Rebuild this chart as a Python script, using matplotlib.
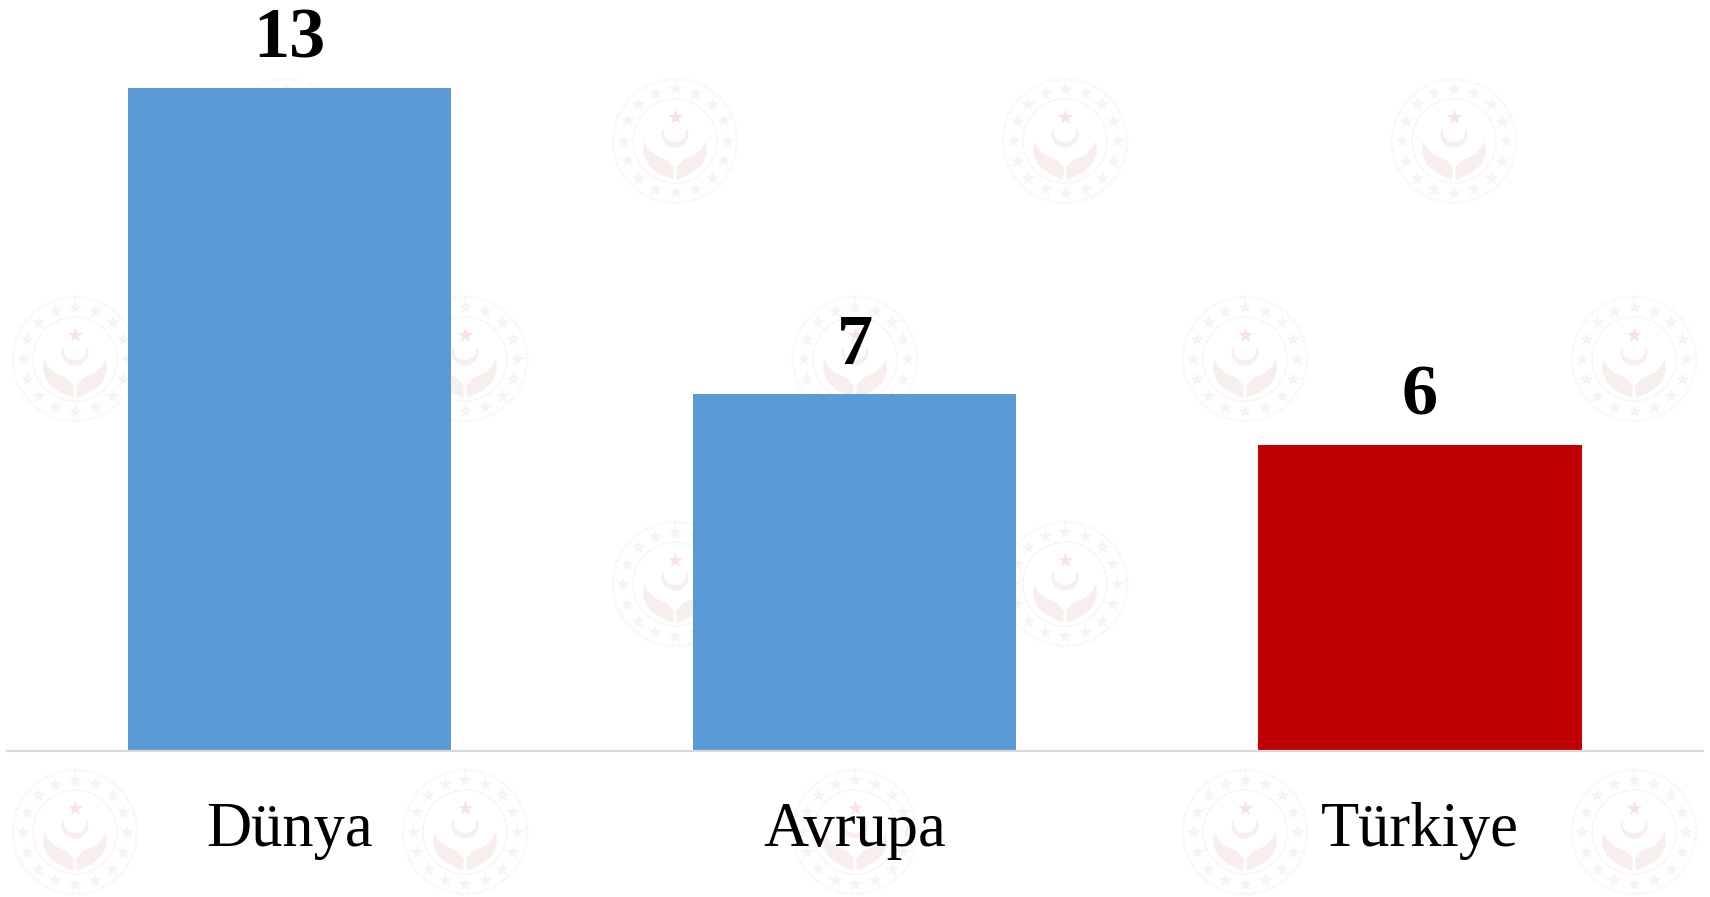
import numpy as np
import matplotlib
matplotlib.use("Agg")
import matplotlib.pyplot as plt
from matplotlib.patches import Polygon, Circle

categories = ["Dünya", "Avrupa", "Türkiye"]
values = [13, 7, 6]
bar_colors = ["#5b9bd5", "#5b9bd5", "#c00000"]

W, H = 1710, 897
SERIF = ["Liberation Serif", "DejaVu Serif"]

# watermark centres in image pixels
wm_row_y = [141, 359, 584, 832]
wm_x_a = [286, 675, 1065, 1454]
wm_x_b = [75, 465, 855, 1245, 1634]

fig = plt.figure(figsize=(W / 100, H / 100), dpi=100, facecolor="white")

# background layer in pixels: the repeated emblem
bg = fig.add_axes([0, 0, 1, 1], zorder=0)
bg.set_xlim(0, W)
bg.set_ylim(H, 0)
bg.axis("off")

RING = "#f9f4f4"
STAR = "#f8f2f2"
HAND = "#f9eeee"
LEFT_HAND = np.array([(-31, 0), (-32, 12), (-27, 24), (-17, 32), (-2, 39),
                      (-1, 27), (-8, 19), (-20, 14), (-27, 7)], float)
t = np.linspace(np.deg2rad(-20), np.deg2rad(200), 40)
CRESCENT = np.vstack([np.c_[13.5 * np.cos(t), 13.5 * np.sin(t) - 7],
                      np.c_[11 * np.cos(t[::-1]), 8.5 * np.sin(t[::-1]) - 7.5]])


def emblem(cx, cy):
    bg.add_patch(Circle((cx, cy), 62, fill=False, ec=RING, lw=2.2, ls=(0, (0.5, 0.5))))
    bg.add_patch(Circle((cx, cy), 42, fill=False, ec=RING, lw=1.0))
    ang = np.deg2rad(np.arange(0, 360, 360 / 16) + 90)
    bg.scatter(cx + 52 * np.cos(ang), cy - 52 * np.sin(ang), marker="*", s=110,
               color=STAR, lw=0)
    bg.scatter([cx], [cy - 24], marker="*", s=130, color="#f8e2e2", lw=0)
    bg.add_patch(Polygon(CRESCENT + [cx, cy], closed=True, fc=HAND, ec="none"))
    for sx in (1, -1):
        pts = LEFT_HAND * [sx, 1] + [cx, cy]
        bg.add_patch(Polygon(pts, closed=True, fc=HAND, ec="none"))


for i, y in enumerate(wm_row_y):
    xs = wm_x_a if i in (0, 2) else wm_x_b
    for x in xs:
        emblem(x, y)

# chart layer
base_px = 751
left_px, right_px = 7, 1702.5
ax = fig.add_axes([left_px / W, (H - base_px) / H, (right_px - left_px) / W, base_px / H], zorder=1)
ax.patch.set_alpha(0)
x = np.arange(len(categories))
ax.bar(x, values, width=0.572, color=bar_colors, lw=0)
ax.set_xlim(-0.5, 2.5)
ax.set_ylim(0, base_px / 51)
ax.set_xticks(x, categories, family=SERIF, fontsize=45)
ax.tick_params(axis="x", length=0, pad=37)
ax.set_yticks([])
for s in ("top", "left", "right"):
    ax.spines[s].set_visible(False)
ax.spines["bottom"].set_color("#d9d9d9")
ax.spines["bottom"].set_linewidth(1.6)
for xi, v in zip(x, values):
    ax.annotate(str(v), (xi, v), xytext=(0, 11), textcoords="offset points", ha="center",
                va="bottom", family=SERIF, fontweight="bold", fontsize=52, color="black",
                annotation_clip=False)

fig.savefig("out.png", dpi=100, facecolor="white")
